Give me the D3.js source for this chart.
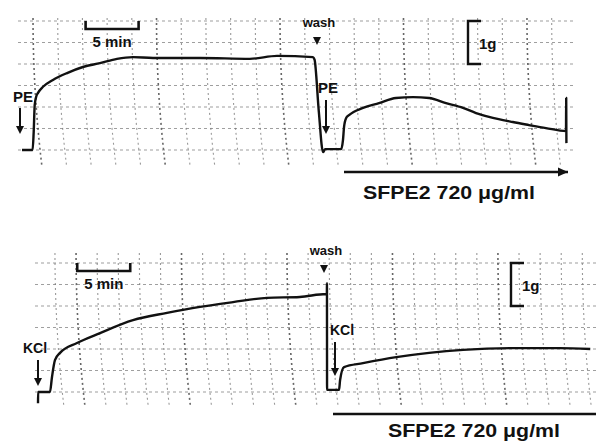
<!DOCTYPE html>
<html>
<head>
<meta charset="utf-8">
<script src="https://cdn.jsdelivr.net/npm/d3@7"></script>
<style>
  body { margin: 0; background: #fff; }
  text { font-family: "Liberation Sans", Arial, sans-serif; font-weight: bold; fill: #111; }
</style>
</head>
<body>
<svg id="chart" width="596" height="441"></svg>
<script>
// tension traces, time in min, tension in g (baseline = 0)
var peTime    = [0, 1.0, 1.1, 1.2, 1.35, 1.51, 1.98, 2.92, 4.25, 5.75, 7.36, 8.96, 10.47, 12.36, 16.8, 21.5, 24.06, 27.45, 27.6, 28.0, 28.4, 28.6, 30.1, 30.28, 30.38, 30.57, 30.85, 32.17, 33.68, 35.28, 36.89, 38.4, 40.0, 41.6, 42.83, 44.06, 46.3, 47.83, 49.43, 51.32, 51.34, 51.36];
var peTension = [0, 0, 0.4, 1.05, 1.25, 1.33, 1.47, 1.63, 1.79, 1.93, 2.02, 2.12, 2.16, 2.14, 2.14, 2.12, 2.19, 2.16, 2.1, 0.9, -0.05, 0.02, 0.02, 0.23, 0.53, 0.74, 0.81, 0.98, 1.09, 1.21, 1.23, 1.21, 1.09, 0.98, 0.86, 0.77, 0.65, 0.58, 0.51, 0.44, 1.21, 0.16];

var kclTime    = [0, 0.01, 1.13, 1.32, 1.6, 2.08, 3.68, 5.85, 8.96, 12.17, 15.28, 18.4, 21.6, 24.7, 27.17, 27.25, 27.26, 27.27, 28.4, 28.5, 28.87, 30.66, 33.8, 36.9, 40.1, 44.8, 49.2, 52.1];
var kclTension = [-0.26, 0, 0, 0.35, 0.74, 0.91, 1.14, 1.37, 1.67, 1.84, 1.98, 2.09, 2.19, 2.21, 2.28, 2.28, 2.53, 0.05, 0.05, 0.28, 0.58, 0.67, 0.81, 0.91, 0.98, 1.02, 1.02, 1.0];

var gridTension = [0, 0.5, 1, 1.5, 2, 2.5, 3];
var drugLabel = "SFPE2 720 \u03bcg/ml";

var svg = d3.select("#chart");
svg.append("rect").attr("width", 596).attr("height", 441).attr("fill", "#fff");

function downArrow(g, x, y1, y2) {
  g.append("line").attr("x1", x).attr("x2", x).attr("y1", y1).attr("y2", y2 - 6)
    .attr("stroke", "#111").attr("stroke-width", 2);
  g.append("path").attr("d", "M" + (x - 4) + "," + (y2 - 8) + "L" + (x + 4) + "," + (y2 - 8) + "L" + x + "," + y2 + "Z")
    .attr("fill", "#111");
}

function drawPanel(p) {
  var g = svg.append("g");
  var x = d3.scaleLinear().domain([0, 52.5]).range([p.x0, p.x0 + 52.5 * 10.6]);
  var y = d3.scaleLinear().domain([0, 3]).range([p.y0, p.y0 - 129]);

  // chart paper
  g.selectAll(".hgrid").data(gridTension).enter().append("line")
    .attr("class", "hgrid")
    .attr("x1", p.gridLeft).attr("x2", p.gridRight)
    .attr("y1", function(d) { return y(d); })
    .attr("y2", function(d) { return y(d); })
    .attr("stroke", "#777").attr("stroke-width", 1.1)
    .attr("stroke-dasharray", "3,3").attr("opacity", 0.7);

  var vlines = d3.range(p.vStart, x.invert(p.gridRight), p.vStep);
  g.selectAll(".vgrid").data(vlines).enter().append("path")
    .attr("class", "vgrid")
    .attr("d", function(d) {
      var x0 = x(d);
      var top = y(p.gridTop), bot = y(p.gridBottom);
      return "M" + x0 + "," + top + "Q" + x0 + "," + ((top + bot) / 2) + " " + (x0 + 9) + "," + bot;
    })
    .attr("fill", "none")
    .attr("stroke", function(d, i) { return (i - p.major) % 5 === 0 ? "#333" : "#777"; })
    .attr("stroke-width", function(d, i) { return (i - p.major) % 5 === 0 ? 1.6 : 1.1; })
    .attr("stroke-dasharray", "2,3").attr("opacity", 0.75);

  // trace
  var line = d3.line()
    .x(function(d) { return x(d[0]); })
    .y(function(d) { return y(d[1]); })
    .curve(d3.curveMonotoneX);
  g.append("path")
    .datum(d3.zip(p.time, p.tension))
    .attr("d", line)
    .attr("fill", "none").attr("stroke", "#111").attr("stroke-width", 2.4)
    .attr("stroke-linejoin", "round");

  // 5 min bar
  var bx1 = x(p.barStart), bx2 = x(p.barStart + 5);
  g.append("path")
    .attr("d", "M" + bx1 + "," + p.barTop + "V" + (p.barTop + 8) + "H" + bx2 + "V" + p.barTop)
    .attr("fill", "none").attr("stroke", "#111").attr("stroke-width", 2.6);
  g.append("text").attr("x", (bx1 + bx2) / 2).attr("y", p.barTop + 26)
    .attr("text-anchor", "middle").attr("font-size", 15).text("5 min");

  // 1 g bar
  var gy1 = y(3), gy2 = y(2);
  g.append("path")
    .attr("d", "M" + (p.gX + 13) + "," + gy1 + "H" + p.gX + "V" + gy2 + "H" + (p.gX + 13))
    .attr("fill", "none").attr("stroke", "#111").attr("stroke-width", 2.4);
  g.append("text").attr("x", p.gX + 11).attr("y", (gy1 + gy2) / 2 + 6)
    .attr("font-size", 15).text("1g");

  // agonist labels
  p.agonists.forEach(function(a) {
    g.append("text").attr("x", a.tx).attr("y", a.ty).attr("text-anchor", "middle")
      .attr("font-size", a.size).text(p.agonist);
    downArrow(g, a.ax, a.ay1, a.ay2);
  });

  // wash
  g.append("text").attr("x", p.washX + 2).attr("y", p.washY)
    .attr("text-anchor", "middle").attr("font-size", 13).text("wash");
  g.append("path")
    .attr("d", "M" + (p.washX - 4) + "," + (p.washY + 10) + "L" + (p.washX + 4) + "," + (p.washY + 10) + "L" + p.washX + "," + (p.washY + 18) + "Z")
    .attr("fill", "#111");

  // drug application
  g.append("line").attr("x1", p.drugX1).attr("x2", p.drugX2)
    .attr("y1", p.drugY).attr("y2", p.drugY)
    .attr("stroke", "#111").attr("stroke-width", 2.6);
  if (p.drugArrow) {
    g.append("path")
      .attr("d", "M" + (p.drugX2 - 10) + "," + (p.drugY - 4.5) + "L" + p.drugX2 + "," + p.drugY + "L" + (p.drugX2 - 10) + "," + (p.drugY + 4.5) + "Z")
      .attr("fill", "#111");
  }
  g.append("text").attr("x", p.labelX).attr("y", p.labelY)
    .attr("font-size", 19).attr("textLength", 172).attr("lengthAdjust", "spacingAndGlyphs")
    .text(drugLabel);
}

drawPanel({
  time: peTime, tension: peTension, agonist: "PE",
  x0: 22, y0: 150,
  gridLeft: 18, gridRight: 575, gridTop: 3.07, gridBottom: -0.4,
  vStart: 1.04, vStep: 2.33, major: 0,
  barStart: 6, barTop: 21,
  gX: 468,
  agonists: [
    { tx: 23, ty: 102, size: 15, ax: 20, ay1: 108, ay2: 134 },
    { tx: 328, ty: 93, size: 15, ax: 326, ay1: 100, ay2: 134 }
  ],
  washX: 317, washY: 27,
  drugX1: 344, drugX2: 568, drugY: 172, drugArrow: true,
  labelX: 363, labelY: 199
});

drawPanel({
  time: kclTime, tension: kclTension, agonist: "KCl",
  x0: 38, y0: 392,
  gridLeft: 35, gridRight: 596, gridTop: 3.23, gridBottom: -0.35,
  vStart: 1.6, vStep: 1.99, major: 6,
  barStart: 3.7, barTop: 263,
  gX: 511,
  agonists: [
    { tx: 35, ty: 353, size: 14, ax: 38, ay1: 360, ay2: 386 },
    { tx: 342, ty: 335, size: 14, ax: 335, ay1: 342, ay2: 376 }
  ],
  washX: 324, washY: 255,
  drugX1: 333, drugX2: 596, drugY: 414, drugArrow: false,
  labelX: 388, labelY: 437
});
</script>
</body>
</html>
